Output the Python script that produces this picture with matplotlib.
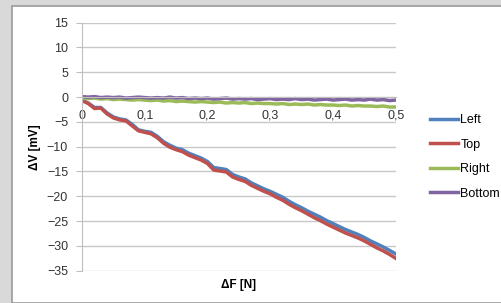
import matplotlib.pyplot as plt
from matplotlib.patches import Rectangle

# Dados (ΔF em N, ΔV em mV)
forca = [0.00, 0.01, 0.02, 0.03, 0.04, 0.05, 0.06, 0.07, 0.08, 0.09,
         0.10, 0.11, 0.12, 0.13, 0.14, 0.15, 0.16, 0.17, 0.18, 0.19,
         0.20, 0.21, 0.22, 0.23, 0.24, 0.25, 0.26, 0.27, 0.28, 0.29,
         0.30, 0.31, 0.32, 0.33, 0.34, 0.35, 0.36, 0.37, 0.38, 0.39,
         0.40, 0.41, 0.42, 0.43, 0.44, 0.45, 0.46, 0.47, 0.48, 0.49,
         0.50]

left = [-0.6, -1.2, -2.1, -2.1, -3.2, -4.0, -4.4, -4.6, -5.5, -6.6,
        -6.9, -7.1, -7.9, -9.0, -9.7, -10.3, -10.6, -11.3, -11.8, -12.3,
        -13.0, -14.2, -14.4, -14.6, -15.6, -16.1, -16.5, -17.3, -17.9, -18.5,
        -19.0, -19.6, -20.2, -21.0, -21.7, -22.3, -23.0, -23.6, -24.2, -24.9,
        -25.5, -26.1, -26.7, -27.2, -27.7, -28.3, -29.0, -29.6, -30.2, -30.9,
        -31.6]

top = [-0.7, -1.3, -2.3, -2.2, -3.4, -4.2, -4.6, -4.8, -5.8, -6.8,
       -7.1, -7.4, -8.2, -9.3, -10.1, -10.6, -11.0, -11.7, -12.2, -12.7,
       -13.4, -14.7, -14.9, -15.1, -16.1, -16.6, -17.0, -17.8, -18.4, -19.0,
       -19.5, -20.2, -20.8, -21.6, -22.3, -22.9, -23.6, -24.3, -24.9, -25.6,
       -26.2, -26.8, -27.4, -27.9, -28.4, -29.0, -29.7, -30.4, -31.0, -31.7,
       -32.5]

right = [-0.2, -0.3, -0.2, -0.4, -0.3, -0.5, -0.4, -0.5, -0.6, -0.5,
         -0.6, -0.7, -0.6, -0.8, -0.7, -0.9, -0.8, -0.9, -1.0, -0.9,
         -1.0, -1.1, -1.0, -1.2, -1.1, -1.2, -1.1, -1.3, -1.2, -1.3,
         -1.3, -1.4, -1.3, -1.5, -1.4, -1.5, -1.4, -1.6, -1.5, -1.6,
         -1.6, -1.7, -1.6, -1.8, -1.7, -1.8, -1.8, -1.9, -1.8, -2.0,
         -2.0]

bottom = [0.1, 0.0, 0.1, -0.1, 0.0, -0.1, 0.0, -0.2, -0.1, 0.0,
          -0.1, -0.2, -0.1, -0.2, 0.0, -0.2, -0.1, -0.3, -0.2, -0.3,
          -0.2, -0.4, -0.3, -0.2, -0.4, -0.3, -0.4, -0.3, -0.5, -0.4,
          -0.3, -0.5, -0.4, -0.5, -0.3, -0.5, -0.4, -0.6, -0.5, -0.4,
          -0.6, -0.5, -0.4, -0.6, -0.5, -0.6, -0.4, -0.6, -0.5, -0.7,
          -0.6]

series = ['Left', 'Top', 'Right', 'Bottom']
cores = ['#4F81BD', '#C0504D', '#9BBB59', '#8064A2']

plt.rcParams['font.family'] = ['Liberation Sans', 'DejaVu Sans']

fig = plt.figure(figsize=(5.01, 3.03), dpi=100, facecolor='#d9d9d9')

# Fundo branco do gráfico (moldura do print), atrás dos eixos
fig.patches.append(Rectangle((12 / 501, 0), 1, 1 - 6 / 303, transform=fig.transFigure,
                             facecolor='white', edgecolor='#9a9a9a', linewidth=1.2,
                             zorder=-10))

ax = fig.add_axes([82 / 501, 1 - 270.7 / 303, (395.7 - 82) / 501, (270.7 - 22.7) / 303])
ax.set_facecolor('none')

for nome, dados, cor in zip(series, [left, top, right, bottom], cores):
    ax.plot(forca, dados, color=cor, linewidth=2.5, label=nome)

ax.set_xlim(0, 0.5)
ax.set_ylim(-35, 15)
ax.set_yticks(range(-35, 16, 5))
ax.set_xticks([0, 0.1, 0.2, 0.3, 0.4, 0.5])
ax.set_xticklabels(['0', '0,1', '0,2', '0,3', '0,4', '0,5'])

ax.grid(axis='y', color='#c8c8c8', linewidth=1)
ax.set_axisbelow(True)

ax.spines['top'].set_visible(False)
ax.spines['right'].set_visible(False)
ax.spines['left'].set_color('#bfbfbf')
ax.spines['bottom'].set_position(('data', 0))
ax.spines['bottom'].set_color('#bfbfbf')

ax.tick_params(axis='y', length=4, color='#bfbfbf', labelsize=9, pad=6, labelcolor='#333333')
ax.tick_params(axis='x', length=0, labelsize=9, pad=9, labelcolor='#333333')

ax.set_ylabel('ΔV [mV]', fontsize=8.5, fontweight='bold', labelpad=4)
ax.set_xlabel('ΔF [N]', fontsize=8.5, fontweight='bold')
ax.xaxis.set_label_coords(0.5, -0.035)

fig.legend(loc='center left', bbox_to_anchor=(424 / 501, 1 - 157 / 303), frameon=False,
           fontsize=9, handlelength=2.2, handletextpad=0.2, labelspacing=1.0, borderpad=0)

plt.savefig('out.png', dpi=100, facecolor=fig.get_facecolor())
